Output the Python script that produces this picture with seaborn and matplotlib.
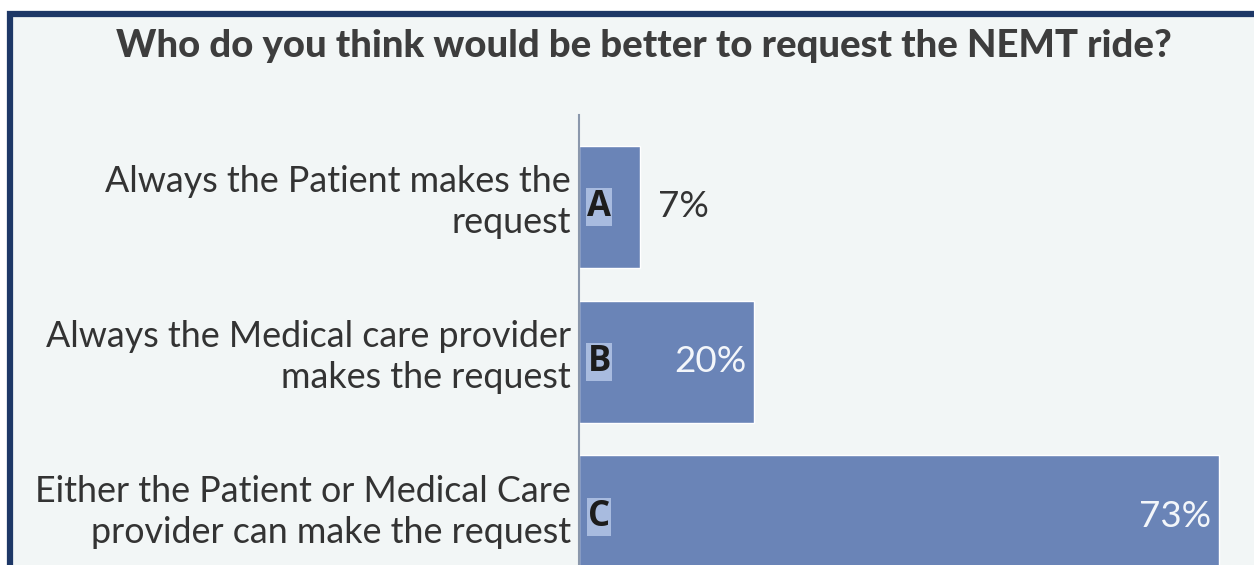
import matplotlib
matplotlib.use("Agg")
import matplotlib.pyplot as plt
from matplotlib.patches import Rectangle
from matplotlib.transforms import ScaledTranslation
import seaborn as sns
import pandas as pd

# Survey responses
categories = [
    "Always the Patient makes the\nrequest",
    "Always the Medical care provider\nmakes the request",
    "Either the Patient or Medical Care\nprovider can make the request",
]
letters = ["A", "B", "C"]
percents = [7, 20, 73]
title = "Who do you think would be better to request the NEMT ride?"

BG = "#f2f6f6"
BAR = "#6a84b7"
NAVY = "#1e3867"
TEXT = "#333333"

sns.set_theme(style="white")
plt.rcParams["font.family"] = ["Lato", "DejaVu Sans"]

W, H = 1254, 565
fig = plt.figure(figsize=(W / 100, H / 100), dpi=100, facecolor="white")

# Panel background with navy frame
fig.patches.append(Rectangle((10 / W, -0.05), 1.05, (H - 14) / H + 0.05,
                             transform=fig.transFigure, facecolor=BG,
                             edgecolor=NAVY, linewidth=4.5, zorder=-10))

fig.text(644 / W, 1 - 46 / H, title, ha="center", va="center",
         fontsize=27.5, fontweight=900, color="#3d3d3d")

ax = fig.add_axes([579 / W, 0, (W - 579) / W, (H - 115) / H])
ax.patch.set_alpha(0)

df = pd.DataFrame({"category": categories, "percent": percents})
sns.barplot(data=df, y="category", x="percent", orient="h", color=BAR,
            saturation=1, width=0.79, ax=ax)

ax.set_xlim(0, (W - 579) / 8.77)
ax.set_ylim(2.313, -0.594)
ax.set_xlabel("")
ax.set_ylabel("")
ax.set_xticks([])
for side in ["top", "right", "bottom"]:
    ax.spines[side].set_visible(False)
ax.spines["left"].set_color("#8b98ac")
ax.spines["left"].set_linewidth(1.5)
ax.tick_params(axis="y", length=0, pad=6)
lift = ScaledTranslation(0, 12 / 100, fig.dpi_scale_trans)
for lab in ax.get_yticklabels():
    lab.set_fontsize(25.8)
    lab.set_color(TEXT)
    lab.set_ha("right")
    lab.set_multialignment("right")
    lab.set_linespacing(1.3)
    lab.set_transform(lab.get_transform() + lift)

for i, (letter, p) in enumerate(zip(letters, percents)):
    ax.annotate(letter, xy=(0, i), xytext=(14.5, 0), textcoords="offset points",
                ha="center", va="center", fontsize=25, fontweight="bold",
                color="#1c1c1c", family=["Open Sans", "DejaVu Sans"],
                bbox=dict(boxstyle="square,pad=0.03", facecolor="#a8bbdf",
                          edgecolor="none"))
    if p < 10:
        ax.annotate(f"{p}%", xy=(p, i), xytext=(13, 0), textcoords="offset points",
                    ha="left", va="center", fontsize=26.5, color=TEXT)
    else:
        ax.annotate(f"{p}%", xy=(p, i), xytext=(-6, 0), textcoords="offset points",
                    ha="right", va="center", fontsize=26.5, color="#f3f6fa")

fig.savefig("out.png", dpi=100, facecolor="white")
